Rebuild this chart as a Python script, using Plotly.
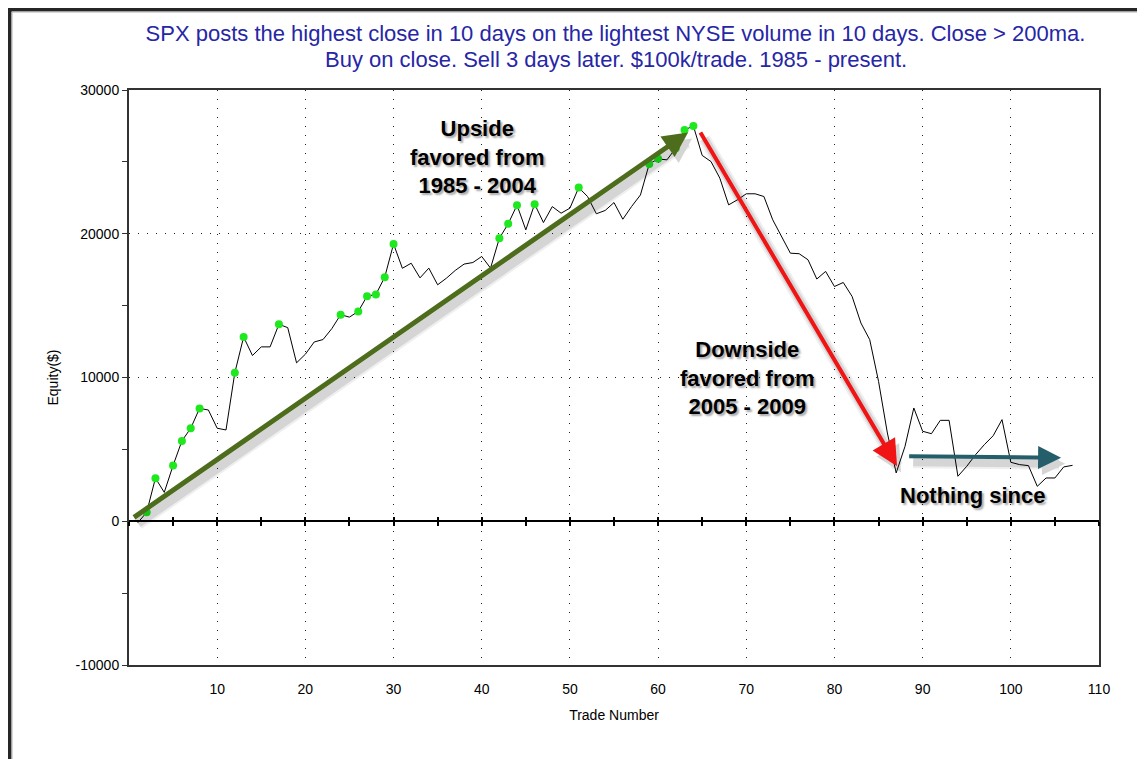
import plotly.graph_objects as go

# ---------------- data ----------------
trade_number = list(range(1, 108))
equity = [
    -100, 620, 3000, 2010, 3880, 5590, 6470, 7850, 7740, 6470,
    6350, 10330, 12820, 11530, 12130, 12130, 13700, 13470, 11020, 11620,
    12470, 12640, 13400, 14370, 14200, 14600, 15660, 15780, 16980, 19290,
    17600, 17950, 16930, 17610, 16450, 16910, 17450, 17890, 18000, 18420,
    17610, 19690, 20690, 21990, 20270, 22060, 20780, 21890, 21430, 21780,
    23210, 22590, 21390, 21620, 22170, 21010, 21900, 22700, 24860, 25210,
    25140, 25950, 27220, 27500, 25450, 25020, 23870, 22010, 22360, 22780,
    22780, 22590, 20970, 19810, 18650, 18610, 18190, 16850, 17380, 16330,
    16610, 15640, 13790, 12630, 9730, 6140, 3360, 5210, 7880, 6260,
    6090, 7020, 7020, 3130, 3820, 4630, 5330, 5950, 7070, 4100,
    3940, 3870, 2430, 3010, 3010, 3780, 3890,
]
x_tick_values = [10, 20, 30, 40, 50, 60, 70, 80, 90, 100, 110]
y_tick_values = [-10000, 0, 10000, 20000, 30000]
y_tick_text = [str(v) for v in y_tick_values]

title_line1 = "SPX posts the highest close in 10 days on the lightest NYSE volume in 10 days. Close > 200ma."
title_line2 = "Buy on close. Sell 3 days later. $100k/trade. 1985 - present."

# new equity highs (green dots)
hi_x, hi_y = [], []
running_max = 0
for n, v in zip(trade_number, equity):
    if v > running_max:
        hi_x.append(n)
        hi_y.append(v)
        running_max = v

fig = go.Figure()
fig.add_trace(go.Scatter(x=trade_number, y=equity, mode="lines",
                         line=dict(color="black", width=1), hoverinfo="skip",
                         showlegend=False))
fig.add_trace(go.Scatter(x=hi_x, y=hi_y, mode="markers",
                         marker=dict(color="#1ee81e", size=8, line=dict(width=0)),
                         hoverinfo="skip", showlegend=False))
# invisible traces to hold the zero-line tick axes
fig.add_trace(go.Scatter(x=[None], y=[None], xaxis="x2", showlegend=False, hoverinfo="skip"))
fig.add_trace(go.Scatter(x=[None], y=[None], xaxis="x3", showlegend=False, hoverinfo="skip"))

font_tick = dict(family="Liberation Sans, Arial", size=14, color="black")
title_color = "#2626a6"

# page body has an 8px margin; figure is sized/placed to compensate
FW, FH = 1137, 751
fig.update_layout(
    width=FW, height=FH,
    margin=dict(l=121, r=46, t=82, b=94),
    paper_bgcolor="white", plot_bgcolor="white",
    title=dict(text=title_line1, x=607.5 / FW, xanchor="center", xref="container",
               y=1 - 25 / FH, yanchor="middle", yref="container",
               font=dict(family="Liberation Sans, Arial", size=22, color=title_color)),
    xaxis=dict(range=[0, 110], tickvals=x_tick_values, showgrid=True,
               gridcolor="#222", griddash="1.2px,7.8px", gridwidth=1,
               showline=True, linecolor="#333", linewidth=2, mirror=True,
               ticks="outside", ticklen=10, tickcolor="rgba(0,0,0,0)",
               tickfont=font_tick, zeroline=False,
               title=dict(text="Trade Number", standoff=14,
                          font=dict(family="Liberation Sans, Arial", size=14, color="black"))),
    xaxis2=dict(range=[0, 110], overlaying="x", anchor="free", position=0.25,
                showgrid=False, showline=False, zeroline=False, showticklabels=False,
                tick0=0, dtick=5, ticks="outside", ticklen=4, tickwidth=1.5, tickcolor="black"),
    xaxis3=dict(range=[0, 110], overlaying="x", anchor="free", position=0.25,
                showgrid=False, showline=False, zeroline=False, showticklabels=False,
                tick0=0, dtick=5, ticks="inside", ticklen=4, tickwidth=1.5, tickcolor="black"),
    yaxis=dict(range=[-10000, 30000], tickvals=y_tick_values, ticktext=y_tick_text,
               showgrid=True, gridcolor="#222", griddash="1.2px,7.8px", gridwidth=1,
               showline=True, linecolor="#333", linewidth=2, mirror=True,
               ticks="outside", ticklen=5, tickcolor="#333",
               minor=dict(dtick=5000, tick0=0, ticks="outside", ticklen=5, tickcolor="#333", showgrid=False),
               tickfont=font_tick,
               zeroline=True, zerolinecolor="black", zerolinewidth=1.5,
               title=dict(text="Equity($)", standoff=14,
                          font=dict(family="Liberation Sans, Arial", size=14, color="black"))),
)

# page-pixel -> paper coordinate helpers (plot area spans x 129..1099, y 90..665 on the page)
L, T, PW, PH = 129, 90, 970, 575
def px_x(p):
    return (p - L) / PW
def px_y(p):
    return (T + PH - p) / PH

fig.add_annotation(text=title_line2, xref="paper", yref="paper",
                   x=px_x(616), y=px_y(59), xanchor="center", yanchor="middle",
                   showarrow=False,
                   font=dict(family="Liberation Sans, Arial", size=22, color=title_color))

# ---------------- arrows (with soft shadows) ----------------
def arrow(tail, head, color, width, size, shadow=True):
    if shadow:
        for extra, alpha in ((8, 0.06), (4, 0.10)):
            fig.add_annotation(x=head[0], y=head[1], ax=tail[0], ay=tail[1],
                               xref="x", yref="y", axref="x", ayref="y", text="",
                               showarrow=True, arrowhead=2,
                               arrowsize=size * width / (width + extra),
                               arrowwidth=width + extra, arrowcolor=f"rgba(0,0,0,{alpha})",
                               xshift=4, yshift=-6)
    fig.add_annotation(x=head[0], y=head[1], ax=tail[0], ay=tail[1],
                       xref="x", yref="y", axref="x", ayref="y", text="",
                       showarrow=True, arrowhead=2, arrowsize=size,
                       arrowwidth=width, arrowcolor=color)

arrow((0.4, 200), (63.4, 27040), "#4d6d1c", 5, 1.0)
arrow((64.7, 27150), (87.1, 3830), "#f01414", 4, 1.3)
arrow((88.3, 4520), (105.7, 4420), "#235e6a", 4, 1.15)

text_font = dict(family="Liberation Sans, Arial", size=22, color="black",
                 shadow="2px 2px 2px rgba(0,0,0,0.35)")
fig.add_annotation(x=39.5, y=25310, xref="x", yref="y", showarrow=False,
                   text="<b>Upside<br>favored from<br>1985 - 2004</b>", font=text_font)
fig.add_annotation(x=70.1, y=10000, xref="x", yref="y", showarrow=False,
                   text="<b>Downside<br>favored from<br>2005 - 2009</b>", font=text_font)
fig.add_annotation(x=95.6, y=1790, xref="x", yref="y", showarrow=False,
                   text="<b>Nothing since</b>", font=text_font)

# ---------------- outer window frame ----------------
fig.add_shape(type="line", xref="paper", yref="paper",
              x0=px_x(8), x1=px_x(1160), y0=px_y(9.75), y1=px_y(9.75),
              line=dict(color="#262626", width=3.5))
fig.add_shape(type="line", xref="paper", yref="paper",
              x0=px_x(9.75), x1=px_x(9.75), y0=px_y(8), y1=px_y(770),
              line=dict(color="#262626", width=3.5))
fig.add_shape(type="line", xref="paper", yref="paper",
              x0=px_x(12), x1=px_x(1160), y0=px_y(12), y1=px_y(12),
              line=dict(color="#b0b0b0", width=1))
fig.add_shape(type="line", xref="paper", yref="paper",
              x0=px_x(12), x1=px_x(12), y0=px_y(12), y1=px_y(770),
              line=dict(color="#b0b0b0", width=1))

fig.write_html("out.html")
